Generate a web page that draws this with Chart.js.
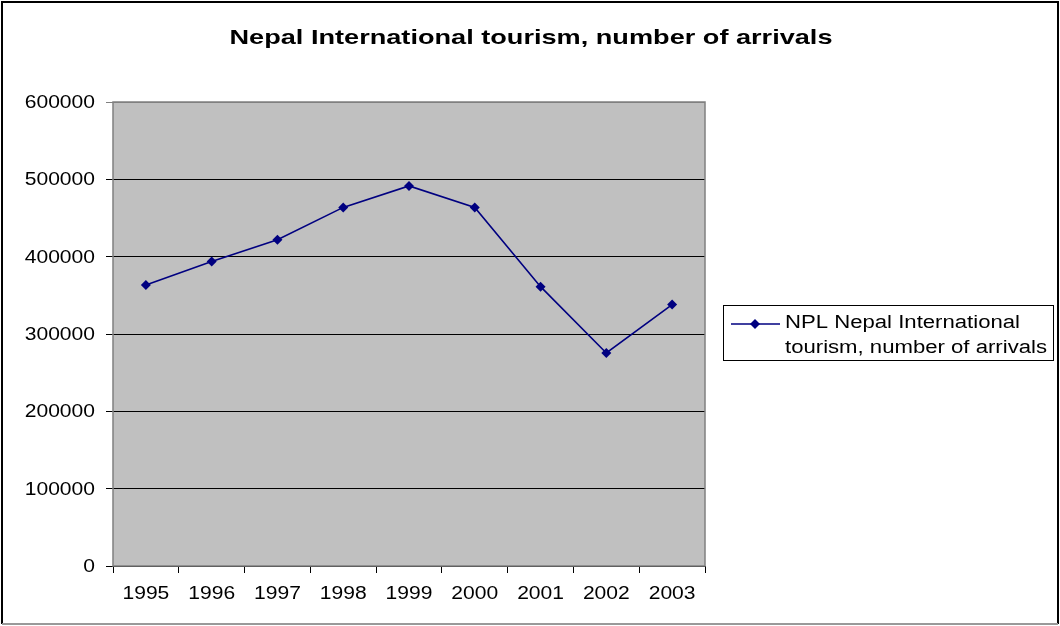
<!DOCTYPE html>
<html>
<head>
<meta charset="utf-8">
<script src="https://cdn.jsdelivr.net/npm/chart.js@4/dist/chart.umd.min.js"></script>
<style>
  html, body { margin:0; padding:0; background:#fff; }
  #wrap { width:1060px; height:626px; }
</style>
</head>
<body>
<div id="wrap"><canvas id="c" width="1060" height="626"></canvas></div>
<script>
// ------------------------------------------------------
// data
// ------------------------------------------------------
const years = ['1995','1996','1997','1998','1999','2000','2001','2002','2003'];
const arrivals = [363400, 393600, 421900, 463700, 491500, 463600, 361200, 275500, 338100];
const seriesLabel = 'NPL Nepal International tourism, number of arrivals';
const legendLines = ['NPL Nepal International', 'tourism, number of arrivals'];
const titleText = 'Nepal International tourism, number of arrivals';
const yTicks = [0, 100000, 200000, 300000, 400000, 500000, 600000];

const FONT = '"Liberation Sans", Arial, sans-serif';
const NAVY = '#000080';
const STRETCH = 1.17;   // the original picture is a bit wider than tall

// text drawn with a horizontal stretch (align: left / center / right)
function drawText(ctx, text, x, y, sx, align){
  const w = ctx.measureText(text).width * sx;
  let left = x;
  if(align === 'center') left = x - w / 2;
  else if(align === 'right') left = x - w;
  ctx.save();
  ctx.translate(left, y);
  ctx.scale(sx, 1);
  ctx.textAlign = 'left';
  ctx.fillText(text, 0, 0);
  ctx.restore();
}

// ------------------------------------------------------
// frame, plot background, tick labels, title, legend
// ------------------------------------------------------
const framePlugin = {
  id: 'frame',
  beforeDraw(chart){
    const { ctx, chartArea: a } = chart;
    ctx.save();
    ctx.fillStyle = '#fff';
    ctx.fillRect(0, 0, chart.width, chart.height);
    ctx.fillStyle = '#c0c0c0';
    ctx.fillRect(a.left, a.top, a.right - a.left, a.bottom - a.top);
    ctx.restore();
  },
  afterDraw(chart){
    const { ctx, chartArea: a } = chart;
    const xs = chart.scales.x, ys = chart.scales.y;
    ctx.save();

    // plot border (grey)
    ctx.strokeStyle = '#808080';
    ctx.lineWidth = 1.5;
    ctx.strokeRect(a.left, a.top, a.right - a.left, a.bottom - a.top);

    // outer frame
    ctx.strokeStyle = '#000';
    ctx.lineWidth = 2;
    ctx.beginPath();
    ctx.moveTo(2, 624); ctx.lineTo(2, 2); ctx.lineTo(1058, 2); ctx.lineTo(1058, 624);
    ctx.stroke();
    ctx.strokeStyle = '#999';
    ctx.beginPath();
    ctx.moveTo(2, 624); ctx.lineTo(1058, 624);
    ctx.stroke();

    // tick labels (positions from the chart's scales)
    ctx.fillStyle = '#000';
    ctx.font = '18px ' + FONT;
    ctx.textBaseline = 'middle';
    ys.ticks.forEach((t, i) => {
      drawText(ctx, String(t.value), 95, ys.getPixelForTick(i) + 1, STRETCH, 'right');
    });
    xs.ticks.forEach((t, i) => {
      drawText(ctx, xs.getLabelForValue(t.value), xs.getPixelForTick(i), 594, STRETCH, 'center');
    });

    // title
    ctx.font = 'bold 21px ' + FONT;
    ctx.textBaseline = 'alphabetic';
    const tw = ctx.measureText(titleText).width;
    drawText(ctx, titleText, 531, 44, 603 / tw, 'center');

    // legend
    const bx = 723, by = 305, bw = 330, bh = 55;
    ctx.fillStyle = '#fff';
    ctx.fillRect(bx, by, bw, bh);
    ctx.strokeStyle = '#000';
    ctx.lineWidth = 1;
    ctx.strokeRect(bx + 0.5, by + 0.5, bw, bh);
    ctx.strokeStyle = NAVY;
    ctx.lineWidth = 1.5;
    ctx.beginPath();
    ctx.moveTo(731, 324); ctx.lineTo(780, 324);
    ctx.stroke();
    ctx.fillStyle = NAVY;
    ctx.beginPath();
    ctx.moveTo(755, 319); ctx.lineTo(760, 324); ctx.lineTo(755, 329); ctx.lineTo(750, 324);
    ctx.closePath();
    ctx.fill();
    ctx.fillStyle = '#000';
    ctx.font = '18px ' + FONT;
    ctx.textBaseline = 'alphabetic';
    const lw = ctx.measureText(legendLines[1]).width;
    const ls = 262 / lw;
    drawText(ctx, legendLines[0], 785, 328, ls, 'left');
    drawText(ctx, legendLines[1], 785, 353, ls, 'left');
    ctx.restore();
  }
};

// ------------------------------------------------------
// chart
// ------------------------------------------------------
new Chart(document.getElementById('c').getContext('2d'), {
  type: 'line',
  data: {
    labels: years,
    datasets: [{
      label: seriesLabel,
      data: arrivals,
      borderColor: NAVY,
      backgroundColor: NAVY,
      borderWidth: 1.6,
      pointStyle: 'rectRot',
      pointRadius: 5,
      pointBorderWidth: 0,
      tension: 0
    }]
  },
  options: {
    responsive: false,
    animation: false,
    layout: { padding: { left: 0, right: 355, top: 102, bottom: 0 } },
    plugins: {
      legend: { display: false },
      title: { display: false },
      tooltip: { enabled: false }
    },
    scales: {
      x: {
        offset: true,
        grid: { offset: true, drawOnChartArea: false, drawTicks: true, tickLength: 7, color: '#000' },
        border: { display: false },
        ticks: { display: false },
        afterFit(s){ s.height = 60; }
      },
      y: {
        min: 0, max: 600000,
        afterBuildTicks(s){ s.ticks = yTicks.map(v => ({ value: v })); },
        grid: {
          color: c => (c.tick && c.tick.value === 600000) ? '#808080' : '#000',
          tickLength: 7,
          drawTicks: true
        },
        border: { display: false },
        ticks: { display: false },
        afterFit(s){ s.width = 113; }
      }
    }
  },
  plugins: [framePlugin]
});
</script>
</body>
</html>
